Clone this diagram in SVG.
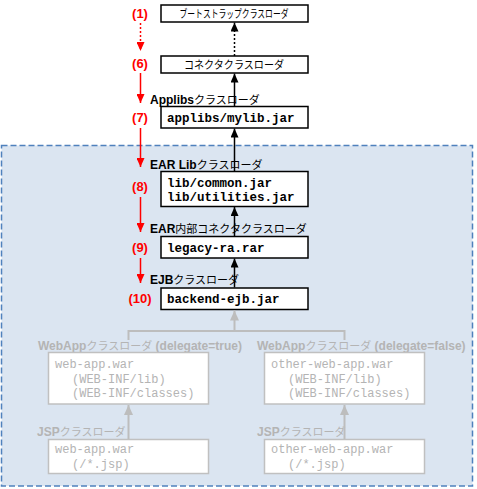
<svg xmlns="http://www.w3.org/2000/svg" width="477" height="489" viewBox="0 0 477 489">
<style>
.box{fill:#fff;stroke:#000;stroke-width:1.5}
.gbox{fill:#fff;stroke:#c0c0c0;stroke-width:1.5}
.mono{font-family:"Liberation Mono","Courier New",monospace;font-size:12.5px;font-weight:bold;fill:#000}
.gmono{font-family:"Liberation Mono","Courier New",monospace;font-size:12px;fill:#b4b4b4}
.lbl{font-family:"Liberation Sans","Noto Sans CJK JP",sans-serif;font-size:12px;font-weight:bold;fill:#000}
.glbl{font-family:"Liberation Sans","Noto Sans CJK JP",sans-serif;font-size:12px;font-weight:bold;fill:#b4b4b4}
.jp{font-family:"Noto Sans CJK JP",sans-serif;font-weight:normal;font-size:11px}
.boxjp{font-family:"Noto Sans CJK JP",sans-serif;font-size:11px;fill:#000}
.num{font-family:"Liberation Sans",Arial,sans-serif;font-size:13px;font-weight:bold;fill:#ff0000;text-anchor:middle}
.red{stroke:#ff0000;stroke-width:1.5;fill:none}
.blk{stroke:#000;stroke-width:1.5;fill:none}
.gry{stroke:#bdbdbd;stroke-width:2;fill:none}
.dot{stroke-dasharray:2,2}
</style>
<defs>
<marker id="ar" markerUnits="userSpaceOnUse" markerWidth="9" markerHeight="8" refX="9" refY="4" orient="auto"><path d="M0,0 L9,4 L0,8 z" fill="#ff0000"/></marker>
<marker id="ab" markerUnits="userSpaceOnUse" markerWidth="9" markerHeight="8" refX="9" refY="4" orient="auto"><path d="M0,0 L9,4 L0,8 z" fill="#000"/></marker>
<marker id="ag" markerUnits="userSpaceOnUse" markerWidth="10" markerHeight="9" refX="10" refY="4.5" orient="auto"><path d="M0,0 L10,4.5 L0,9 z" fill="#bdbdbd"/></marker>
</defs>
<rect x="0" y="0" width="477" height="489" fill="#fff"/>
<g id="ear-region">
<rect x="1.5" y="145.5" width="471" height="340.5" fill="#dbe5f1" stroke="#4f81bd" stroke-width="1.5" stroke-dasharray="6,3"/>
</g>
<g id="bootstrap">
<rect class="box" x="161" y="5" width="147" height="17"/>
<text class="boxjp" x="234" y="18" text-anchor="middle" textLength="109" lengthAdjust="spacingAndGlyphs">ブートストラップクラスローダ</text>
</g>
<g id="connector">
<rect class="box" x="161" y="56" width="147" height="17"/>
<text class="boxjp" x="234" y="68.5" text-anchor="middle" textLength="100" lengthAdjust="spacingAndGlyphs">コネクタクラスローダ</text>
</g>
<g id="applibs">
<text class="lbl" x="150" y="104">Applibs<tspan class="jp">クラスローダ</tspan></text>
<rect class="box" x="161" y="106.5" width="147" height="21.5"/>
<text class="mono" x="167" y="122">applibs/mylib.jar</text>
</g>
<g id="earlib">
<text class="lbl" x="150" y="169">EAR Lib<tspan class="jp">クラスローダ</tspan></text>
<rect class="box" x="161" y="171.5" width="147" height="35"/>
<text class="mono" x="167" y="187">lib/common.jar</text>
<text class="mono" x="167" y="201">lib/utilities.jar</text>
</g>
<g id="earconnector">
<text class="lbl" x="150" y="233">EAR<tspan class="jp">内部コネクタクラスローダ</tspan></text>
<rect class="box" x="161" y="236.5" width="147" height="21.5"/>
<text class="mono" x="167" y="252">legacy-ra.rar</text>
</g>
<g id="ejb">
<text class="lbl" x="150" y="284">EJB<tspan class="jp">クラスローダ</tspan></text>
<rect class="box" x="161" y="288" width="147" height="21.5"/>
<text class="mono" x="167" y="303">backend-ejb.jar</text>
</g>
<g id="webapp1">
<text class="glbl" x="38" y="350">WebApp<tspan class="jp">クラスローダ</tspan> (delegate=true)</text>
<rect class="gbox" x="48.5" y="352.5" width="160" height="51.5"/>
<text class="gmono" x="55" y="368">web-app.war</text>
<text class="gmono" x="72" y="383">(WEB-INF/lib)</text>
<text class="gmono" x="72" y="397">(WEB-INF/classes)</text>
</g>
<g id="jsp1">
<text class="glbl" x="37" y="436">JSP<tspan class="jp">クラスローダ</tspan></text>
<rect class="gbox" x="48.5" y="439.5" width="160" height="34"/>
<text class="gmono" x="55" y="453">web-app.war</text>
<text class="gmono" x="72" y="468">(/*.jsp)</text>
</g>
<g id="webapp2">
<text class="glbl" x="257" y="350">WebApp<tspan class="jp">クラスローダ</tspan> (delegate=false)</text>
<rect class="gbox" x="264.5" y="352.5" width="160" height="51.5"/>
<text class="gmono" x="271" y="368">other-web-app.war</text>
<text class="gmono" x="288" y="383">(WEB-INF/lib)</text>
<text class="gmono" x="288" y="397">(WEB-INF/classes)</text>
</g>
<g id="jsp2">
<text class="glbl" x="257" y="436">JSP<tspan class="jp">クラスローダ</tspan></text>
<rect class="gbox" x="264.5" y="439.5" width="160" height="34"/>
<text class="gmono" x="271" y="453">other-web-app.war</text>
<text class="gmono" x="288" y="468">(/*.jsp)</text>
</g>
<g id="order-numbers">
<text class="num" x="140" y="18">(1)</text>
<text class="num" x="140" y="68">(6)</text>
<text class="num" x="140" y="122">(7)</text>
<text class="num" x="140" y="191">(8)</text>
<text class="num" x="140" y="252">(9)</text>
<text class="num" x="140" y="303">(10)</text>
</g>
<g id="connectors">
<line class="red dot" x1="140.5" y1="23" x2="140.5" y2="51" marker-end="url(#ar)"/>
<line class="red" x1="140.5" y1="73" x2="140.5" y2="103" marker-end="url(#ar)"/>
<line class="red" x1="140.5" y1="128" x2="140.5" y2="167" marker-end="url(#ar)"/>
<line class="red" x1="140.5" y1="197" x2="140.5" y2="232" marker-end="url(#ar)"/>
<line class="red" x1="140.5" y1="258" x2="140.5" y2="283" marker-end="url(#ar)"/>
<line class="blk dot" x1="234.5" y1="56" x2="234.5" y2="22.5" marker-end="url(#ab)"/>
<line class="blk" x1="234.5" y1="106" x2="234.5" y2="73.5" marker-end="url(#ab)"/>
<line class="blk" x1="234.5" y1="171" x2="234.5" y2="128.5" marker-end="url(#ab)"/>
<line class="blk" x1="234.5" y1="236" x2="234.5" y2="207" marker-end="url(#ab)"/>
<line class="blk" x1="234.5" y1="287.5" x2="234.5" y2="258.5" marker-end="url(#ab)"/>
<line class="gry" x1="234.5" y1="331" x2="234.5" y2="310.5" marker-end="url(#ag)"/>
<path class="gry" d="M128.5,340 V331 H344.5 V340"/>
<line class="gry" x1="128.5" y1="439" x2="128.5" y2="405" marker-end="url(#ag)"/>
<line class="gry" x1="344.5" y1="439" x2="344.5" y2="405" marker-end="url(#ag)"/>
</g>
</svg>
